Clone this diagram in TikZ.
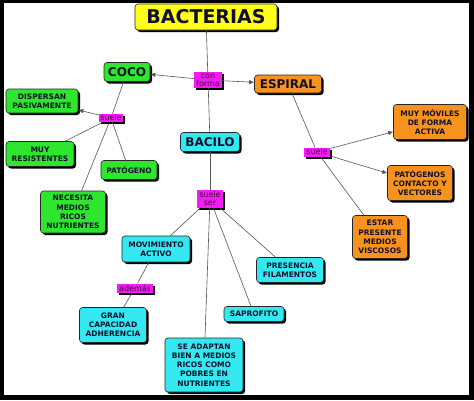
\documentclass[tikz,border=0pt]{standalone}
\usepackage{fontspec}
\setmainfont{DejaVu Sans}
\usetikzlibrary{shadows,arrows.meta}
\definecolor{cgreen}{HTML}{2EE62E}
\definecolor{ccyan}{HTML}{33E8F0}
\definecolor{corange}{HTML}{F7921E}
\definecolor{cyellow}{HTML}{FFFF1A}
\definecolor{cmag}{HTML}{F21CF2}
\definecolor{clbltext}{HTML}{3A0A3A}
\definecolor{ctext}{HTML}{10102A}
\definecolor{cline}{HTML}{555555}
\tikzset{
  x=1pt,y=-1pt,
  conc/.style={draw=black!85, line width=0.6pt, rounded corners=3pt, inner sep=0pt,
    align=center, text=ctext, font=\bfseries\fontsize{7.5}{9.2}\selectfont,
    drop shadow={shadow xshift=2pt, shadow yshift=-2pt, fill=black, opacity=1}},
  gbox/.style={conc, fill=cgreen},
  cbox/.style={conc, fill=ccyan},
  obox/.style={conc, fill=corange},
  lbl/.style={fill=cmag, inner sep=0pt, align=center, text=clbltext,
    font=\fontsize{8}{8}\selectfont,
    drop shadow={shadow xshift=2pt, shadow yshift=-2pt, fill=black, opacity=1}},
  con/.style={draw=cline, line width=0.6pt},
  arr/.style={con, -{Latex[length=5pt,width=4.5pt]}},
}
\begin{document}
\begin{tikzpicture}
\fill[black] (0,0) rectangle (474,400);
\fill[white] (4,3) rectangle (469,395);
\useasboundingbox (0,0) rectangle (474,400);

% main concepts
\node[conc, fill=cyellow, minimum width=142pt, minimum height=26pt, font=\bfseries\fontsize{19}{20}\selectfont] (bact) at (206,17) {BACTERIAS};
\node[gbox, minimum width=46pt, minimum height=19pt, font=\bfseries\fontsize{12}{13}\selectfont] (coco) at (127,72) {COCO};
\node[obox, minimum width=67pt, minimum height=18pt, font=\bfseries\fontsize{12}{13}\selectfont] (esp) at (288,84) {ESPIRAL};
\node[cbox, minimum width=59pt, minimum height=19pt, font=\bfseries\fontsize{12}{13}\selectfont] (bac) at (210,142) {BACILO};

% coco children
\node[gbox, minimum width=72pt, minimum height=24pt] (disp) at (42,101) {DISPERSAN\\PASIVAMENTE};
\node[gbox, minimum width=68pt, minimum height=25pt] (res) at (40,154) {MUY\\RESISTENTES};
\node[gbox, minimum width=56pt, minimum height=19pt] (pat) at (129,170) {PATÓGENO};
\node[gbox, minimum width=65pt, minimum height=42pt] (nec) at (73,212) {NECESITA\\MEDIOS\\RICOS\\NUTRIENTES};

% bacilo children
\node[cbox, minimum width=68pt, minimum height=26pt] (mov) at (156,249) {MOVIMIENTO\\ACTIVO};
\node[cbox, minimum width=67pt, minimum height=25pt] (fil) at (290,270) {PRESENCIA\\FILAMENTOS};
\node[cbox, minimum width=67pt, minimum height=35pt] (gran) at (113,325) {GRAN\\CAPACIDAD\\ADHERENCIA};
\node[cbox, minimum width=60pt, minimum height=15pt] (sap) at (254,314) {SAPROFITO};
\node[cbox, minimum width=78pt, minimum height=54pt] (adap) at (204,365) {SE ADAPTAN\\BIEN A MEDIOS\\RICOS COMO\\POBRES EN\\NUTRIENTES};

% espiral children
\node[obox, minimum width=73pt, minimum height=35pt] (movil) at (430,122) {MUY MÓVILES\\DE FORMA\\ACTIVA};
\node[obox, minimum width=65pt, minimum height=35pt] (pats) at (420,183) {PATÓGENOS\\CONTACTO Y\\VECTORES};
\node[obox, minimum width=55pt, minimum height=43pt] (est) at (380,237) {ESTAR\\PRESENTE\\MEDIOS\\VISCOSOS};

% linking labels
\node[lbl, minimum width=28pt, minimum height=16pt] (cf) at (208,80) {con\\forma};
\node[lbl, minimum width=24pt, minimum height=8pt] (s1) at (111,118) {suele};
\node[lbl, minimum width=26pt, minimum height=18pt] (ss) at (210,199) {suele\\ser};
\node[lbl, minimum width=36pt, minimum height=9pt] (ad) at (135,288) {además};
\node[lbl, minimum width=26pt, minimum height=9pt] (s2) at (317,152) {suele};

% connectors
\draw[con] (bact) -- (cf);
\draw[arr] (cf) -- (coco);
\draw[arr] (cf) -- (esp);
\draw[con] (cf) -- (bac);

\draw[con] (coco) -- (s1);
\draw[arr] (s1) -- (disp);
\draw[con] (s1) -- (res);
\draw[con] (s1) -- (pat);
\draw[con] (s1) -- (nec);

\draw[con] (bac) -- (ss);
\draw[con] (ss) -- (mov);
\draw[con] (ss) -- (fil);
\draw[con] (ss) -- (sap);
\draw[con] (ss) -- (adap);
\draw[con] (mov) -- (ad);
\draw[con] (ad) -- (gran);

\draw[con] (esp) -- (s2);
\draw[arr] (s2) -- (movil);
\draw[arr] (s2) -- (pats);
\draw[con] (s2) -- (est);
\end{tikzpicture}
\end{document}
